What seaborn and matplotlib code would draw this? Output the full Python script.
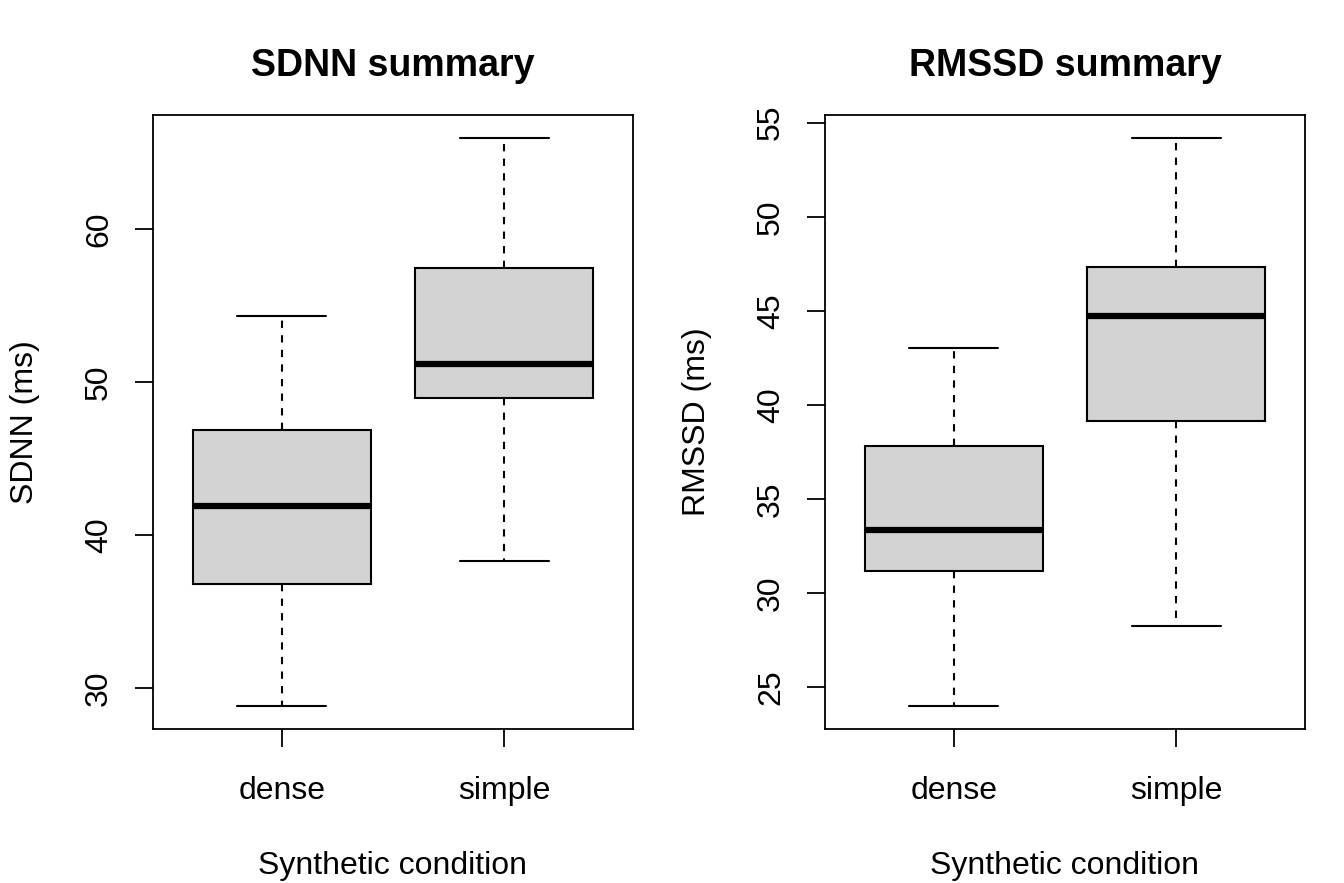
import numpy as np
import pandas as pd
import matplotlib
matplotlib.use("Agg")
import matplotlib.pyplot as plt
import seaborn as sns

# five-number summaries (min, q1, median, q3, max)
conditions = ["dense", "simple"]
sdnn_dense = [28.8, 36.8, 41.9, 46.85, 54.3]
sdnn_simple = [38.3, 48.95, 51.15, 57.45, 65.95]
rmssd_dense = [24.0, 31.2, 33.35, 37.8, 43.05]
rmssd_simple = [28.25, 39.15, 44.75, 47.35, 54.2]

sns.set_style("ticks")
plt.rcParams["font.family"] = ["Liberation Sans", "DejaVu Sans"]
plt.rcParams["text.color"] = "black"
plt.rcParams["axes.labelcolor"] = "black"
plt.rcParams["xtick.color"] = "black"
plt.rcParams["ytick.color"] = "black"

fig = plt.figure(figsize=(13.44, 8.83), dpi=100)
ax1 = fig.add_axes([153 / 1344, 1 - 729 / 883, 480 / 1344, 614 / 883])
ax2 = fig.add_axes([825 / 1344, 1 - 729 / 883, 480 / 1344, 614 / 883])

panels = [
    (ax1, sdnn_dense, sdnn_simple, "SDNN summary", "SDNN (ms)", [30, 40, 50, 60]),
    (ax2, rmssd_dense, rmssd_simple, "RMSSD summary", "RMSSD (ms)", [25, 30, 35, 40, 45, 50, 55]),
]

for ax, dense, simple, title, ylab, yticks in panels:
    df = pd.DataFrame({
        "condition": ["dense"] * len(dense) + ["simple"] * len(simple),
        "value": dense + simple,
    })
    sns.boxplot(data=df, x="condition", y="value", order=conditions, ax=ax,
                color="#D3D3D3", saturation=1, linecolor="black", linewidth=1.5,
                width=0.8, whis=(0, 100), fliersize=0,
                whiskerprops=dict(linestyle=(0, (3.5, 3.5))),
                medianprops=dict(linewidth=4.5, color="black"))
    lo = min(dense + simple)
    hi = max(dense + simple)
    pad = (hi - lo) * 0.04
    ax.set_ylim(lo - pad, hi + pad)
    ax.set_xlim(-0.58, 1.58)
    ax.set_yticks(yticks)
    ax.set_yticklabels([str(t) for t in yticks], rotation=90, va="center")
    ax.tick_params(length=13, width=1.3, labelsize=23, color="black")
    ax.tick_params(axis="x", pad=21)
    ax.tick_params(axis="y", pad=15)
    for s in ax.spines.values():
        s.set_linewidth(1.3)
        s.set_color("black")
    ax.set_title(title, fontsize=27, fontweight="bold", pad=28)
    ax.set_xlabel("Synthetic condition", fontsize=23, labelpad=32)
    ax.set_ylabel(ylab, fontsize=23, labelpad=32)

fig.savefig("out.png", dpi=100)
